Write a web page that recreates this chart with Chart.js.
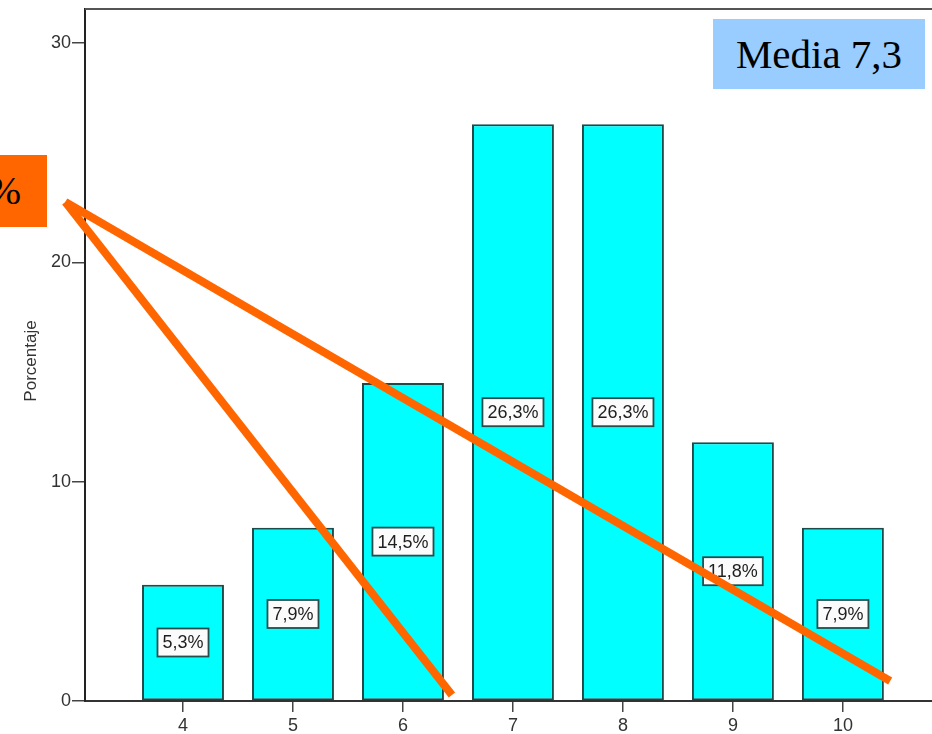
<!DOCTYPE html>
<html>
<head>
<meta charset="utf-8">
<script src="https://cdn.jsdelivr.net/npm/chart.js@4"></script>
<style>
  html, body { margin: 0; padding: 0; background: #fff; overflow: hidden; }
  #wrap { position: relative; width: 932px; height: 734px; }
  .note { position: absolute; font-family: 'Liberation Serif', 'Times New Roman', serif; color: #000; }
  #media { left: 713px; top: 19px; width: 212px; height: 70px; line-height: 70px; background: #99ccff; font-size: 41px; text-align: center; }
  #pct { left: -40px; top: 155px; width: 87px; height: 72px; line-height: 72px; background: #ff6600; font-size: 40px; text-align: right; box-sizing: border-box; padding-right: 26px; }
</style>
</head>
<body>
<div id="wrap">
  <canvas id="chart"></canvas>
  <div class="note" id="media">Media 7,3</div>
  <div class="note" id="pct">%</div>
</div>
<script>
// valores
const categories = [4, 5, 6, 7, 8, 9, 10];
const percentages = [5.3, 7.9, 14.5, 26.3, 26.3, 11.8, 7.9];
const yTicks = [0, 10, 20, 30];
const yRange = [0, 31.55];
const xRange = [3.109, 10.81];

// líneas naranjas dibujadas encima (en unidades de los ejes)
const lineStart = [2.93, 22.75];
const lineEnds = [[6.445, 0.27], [10.43, 0.91]];

const fontFamily = "'Liberation Sans', Arial, sans-serif";

// etiqueta "5,3%"
function fmt(v) {
    return v.toFixed(1).replace('.', ',') + '%';
}

// cajas con el porcentaje en medio de cada barra
const barLabels = {
    id: 'barLabels',
    afterDatasetsDraw(chart) {
        const ctx = chart.ctx;
        const meta = chart.getDatasetMeta(0);
        ctx.save();
        ctx.font = '18px ' + fontFamily;
        ctx.textAlign = 'center';
        ctx.textBaseline = 'middle';
        meta.data.forEach((bar, i) => {
            const text = fmt(percentages[i]);
            const w = ctx.measureText(text).width + 10;
            const h = 28;
            const cy = (bar.y + bar.base) / 2;
            ctx.fillStyle = '#fbfbfb';
            ctx.fillRect(bar.x - w / 2, cy - h / 2, w, h);
            ctx.strokeStyle = '#264c4c';
            ctx.lineWidth = 1.8;
            ctx.strokeRect(bar.x - w / 2, cy - h / 2, w, h);
            ctx.fillStyle = '#1e1e1e';
            ctx.fillText(text, bar.x, cy + 1);
        });
        ctx.restore();
    }
};

// marco superior, título del eje y líneas naranjas
const extras = {
    id: 'extras',
    afterDraw(chart) {
        const ctx = chart.ctx;
        const area = chart.chartArea;
        const xs = chart.scales.x;
        const ys = chart.scales.y;
        ctx.save();
        ctx.strokeStyle = '#555';
        ctx.lineWidth = 2;
        ctx.beginPath();
        ctx.moveTo(area.left, area.top);
        ctx.lineTo(area.right, area.top);
        ctx.stroke();

        ctx.translate(31, 361);
        ctx.rotate(-Math.PI / 2);
        ctx.font = '17px ' + fontFamily;
        ctx.fillStyle = '#333';
        ctx.textAlign = 'center';
        ctx.textBaseline = 'middle';
        ctx.fillText('Porcentaje', 0, 0);
        ctx.restore();

        ctx.save();
        ctx.strokeStyle = '#ff6600';
        ctx.lineWidth = 8;
        ctx.lineCap = 'butt';
        lineEnds.forEach(end => {
            ctx.beginPath();
            ctx.moveTo(xs.getPixelForValue(lineStart[0]), ys.getPixelForValue(lineStart[1]));
            ctx.lineTo(xs.getPixelForValue(end[0]), ys.getPixelForValue(end[1]));
            ctx.stroke();
        });
        ctx.restore();
    }
};

new Chart(document.getElementById('chart'), {
    type: 'bar',
    data: {
        datasets: [{
            data: categories.map((c, i) => ({ x: c, y: percentages[i] })),
            backgroundColor: '#00ffff',
            borderColor: '#1f4a4a',
            borderWidth: 2,
            borderSkipped: false,
            categoryPercentage: 1,
            barPercentage: 0.745
        }]
    },
    options: {
        responsive: true,
        maintainAspectRatio: false,
        animation: false,
        layout: { padding: { top: 9, right: 0, bottom: 0, left: 0 } },
        plugins: { legend: { display: false }, tooltip: { enabled: false } },
        scales: {
            x: {
                type: 'linear',
                offset: false,
                min: xRange[0],
                max: xRange[1],
                afterBuildTicks: scale => { scale.ticks = categories.map(v => ({ value: v })); },
                afterFit: scale => { scale.height = 33; scale.paddingLeft = 0; scale.paddingRight = 0; },
                grid: { offset: false, drawOnChartArea: false, drawTicks: true, tickLength: 11, color: '#444', lineWidth: 1.5 },
                border: { display: true, color: '#333', width: 2 },
                ticks: { color: '#333', font: { family: fontFamily, size: 18 }, padding: 3, maxRotation: 0, autoSkip: false }
            },
            y: {
                min: yRange[0],
                max: yRange[1],
                afterBuildTicks: scale => { scale.ticks = yTicks.map(v => ({ value: v })); },
                afterFit: scale => { scale.width = 85; scale.paddingTop = 0; scale.paddingBottom = 0; },
                grid: { drawOnChartArea: false, drawTicks: true, tickLength: 13, color: '#444', lineWidth: 1.5 },
                border: { display: true, color: '#222', width: 2 },
                ticks: { color: '#333', font: { family: fontFamily, size: 18 }, padding: 1 }
            }
        }
    },
    plugins: [barLabels, extras]
});
</script>
</body>
</html>
